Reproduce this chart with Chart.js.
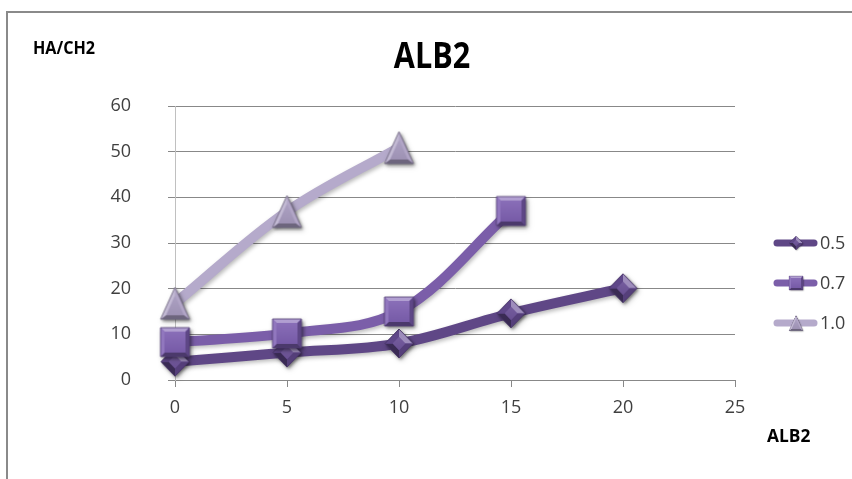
<!DOCTYPE html>
<html>
<head>
<meta charset="utf-8">
<script src="https://cdn.jsdelivr.net/npm/chart.js@4.4.1/dist/chart.umd.min.js"></script>
<style>
html, body { margin: 0; padding: 0; background: #fff; }
#wrap { position: relative; width: 852px; height: 479px; }
</style>
</head>
<body>
<div id="wrap"><canvas id="chart"></canvas></div>
<script>
// ALB2 values for each HA/CH2 ratio
const xValues = [0, 5, 10, 15, 20];
const series05 = [4.0, 6.0, 8.0, 14.6, 20.1];
const series07 = [8.3, 10.2, 15.0, 37.0];
const series10 = [16.8, 36.9, 50.9];
const seriesLabels = ['0.5', '0.7', '1.0'];

const FONT = "'Open Sans', 'DejaVu Sans', sans-serif";

function shade(hex, amt) {
    const n = parseInt(hex.slice(1), 16);
    let r = n >> 16, g = (n >> 8) & 255, b = n & 255;
    const t = amt < 0 ? 0 : 255, p = Math.abs(amt);
    r = Math.round((t - r) * p + r);
    g = Math.round((t - g) * p + g);
    b = Math.round((t - b) * p + b);
    return 'rgb(' + r + ',' + g + ',' + b + ')';
}

function poly(g, pts, fill) {
    g.beginPath();
    g.moveTo(pts[0][0], pts[0][1]);
    for (let i = 1; i < pts.length; i++) g.lineTo(pts[i][0], pts[i][1]);
    g.closePath();
    g.fillStyle = fill;
    g.fill();
}

// bevelled marker images, used as pointStyle
function makeMarker(shape, base, w, h) {
    const pad = 4;
    const c = document.createElement('canvas');
    c.width = w + pad * 2;
    c.height = h + pad * 2;
    const g = c.getContext('2d');
    const cx = c.width / 2, cy = c.height / 2;
    let outer;
    if (shape === 'diamond') {
        outer = [[cx, cy - h / 2], [cx + w / 2, cy], [cx, cy + h / 2], [cx - w / 2, cy]];
    } else if (shape === 'square') {
        outer = [[cx - w / 2, cy - h / 2], [cx + w / 2, cy - h / 2], [cx + w / 2, cy + h / 2], [cx - w / 2, cy + h / 2]];
    } else {
        outer = [[cx, cy - h / 2], [cx + w / 2, cy + h / 2], [cx - w / 2, cy + h / 2]];
    }
    g.save();
    g.shadowColor = 'rgba(0,0,0,0.4)';
    g.shadowBlur = 3;
    g.shadowOffsetX = 1.5;
    g.shadowOffsetY = 1.5;
    poly(g, outer, base);
    g.restore();

    let inner;
    if (shape === 'square') {
        const b = 4;
        inner = [[outer[0][0] + b, outer[0][1] + b], [outer[1][0] - b, outer[1][1] + b],
                 [outer[2][0] - b, outer[2][1] - b], [outer[3][0] + b, outer[3][1] - b]];
    } else {
        const k = shape === 'diamond' ? 0.45 : 0.6;
        const mx = outer.reduce((s, p) => s + p[0], 0) / outer.length;
        const my = outer.reduce((s, p) => s + p[1], 0) / outer.length;
        inner = outer.map(p => [mx + (p[0] - mx) * k, my + (p[1] - my) * k]);
    }
    let tones;
    if (shape === 'diamond') tones = [0.35, -0.2, -0.45, -0.1];
    else if (shape === 'square') tones = [0.4, -0.25, -0.4, 0.15];
    else tones = [0.1, -0.35, 0.3];
    const n = outer.length;
    for (let i = 0; i < n; i++) {
        const j = (i + 1) % n;
        poly(g, [outer[i], outer[j], inner[j], inner[i]], shade(base, tones[i]));
    }
    const grad = g.createLinearGradient(0, cy - h / 2, 0, cy + h / 2);
    grad.addColorStop(0, shade(base, 0.12));
    grad.addColorStop(1, shade(base, -0.08));
    poly(g, inner, grad);
    g.beginPath();
    g.moveTo(outer[0][0], outer[0][1]);
    for (let i = 1; i < n; i++) g.lineTo(outer[i][0], outer[i][1]);
    g.closePath();
    g.strokeStyle = shade(base, -0.35);
    g.lineWidth = 0.8;
    g.stroke();
    return c;
}

const lineColors = ['#5f4786', '#7b5ea9', '#b5aacb'];
const markerColors = ['#6a4f98', '#7d5fb2', '#a89bc0'];
const markers = [
    makeMarker('diamond', markerColors[0], 28, 29),
    makeMarker('square', markerColors[1], 29, 29),
    makeMarker('triangle', markerColors[2], 29, 32)
];
const allSeries = [series05, series07, series10];

function toPoints(vals) {
    return vals.map((v, i) => ({ x: xValues[i], y: v }));
}

const datasets = allSeries.map((vals, i) => ({
    label: seriesLabels[i],
    data: toPoints(vals),
    showLine: true,
    borderColor: lineColors[i],
    backgroundColor: lineColors[i],
    borderWidth: 10,
    borderCapStyle: 'round',
    borderJoinStyle: 'round',
    tension: 0.35,
    pointStyle: markers[i],
    pointRadius: 14,
    clip: false,
    order: 3 - i
}));

// frame, titles and the legend on the right
const decor = {
    id: 'decor',
    beforeDraw(chart) {
        const ctx = chart.ctx;
        ctx.save();
        ctx.fillStyle = '#fff';
        ctx.fillRect(0, 0, chart.width, chart.height);
        ctx.strokeStyle = '#8a8a8a';
        ctx.lineWidth = 2;
        ctx.beginPath();
        ctx.moveTo(7, chart.height);
        ctx.lineTo(7, 12);
        ctx.lineTo(chart.width, 12);
        ctx.stroke();
        ctx.restore();
    },
    beforeDatasetDraw(chart) {
        const ctx = chart.ctx;
        ctx.save();
        ctx.shadowColor = 'rgba(0,0,0,0.28)';
        ctx.shadowBlur = 4;
        ctx.shadowOffsetX = 1.5;
        ctx.shadowOffsetY = 2;
    },
    afterDatasetDraw(chart) {
        chart.ctx.restore();
    },
    afterDraw(chart) {
        const ctx = chart.ctx;
        ctx.save();
        ctx.fillStyle = '#000';
        ctx.textBaseline = 'alphabetic';
        // chart title
        ctx.save();
        ctx.translate(432, 68);
        ctx.scale(0.85, 1);
        ctx.font = 'bold 36px ' + FONT;
        ctx.textAlign = 'center';
        ctx.fillText('ALB2', 0, 0);
        ctx.restore();
        // axis titles
        ctx.font = 'bold 17px ' + FONT;
        ctx.textAlign = 'left';
        ctx.save();
        ctx.translate(33, 54);
        ctx.scale(0.95, 1);
        ctx.fillText('HA/CH2', 0, 0);
        ctx.restore();
        ctx.save();
        ctx.translate(767, 442);
        ctx.scale(1.02, 1);
        ctx.fillText('ALB2', 0, 0);
        ctx.restore();

        // legend
        const rows = [243, 283, 323];
        ctx.font = '18px ' + FONT;
        ctx.textBaseline = 'middle';
        for (let i = 0; i < seriesLabels.length; i++) {
            const y = rows[i];
            ctx.strokeStyle = lineColors[i];
            ctx.lineWidth = 7;
            ctx.lineCap = 'round';
            ctx.beginPath();
            ctx.moveTo(777, y);
            ctx.lineTo(814, y);
            ctx.stroke();
            const m = markers[i];
            const s = 0.48;
            ctx.drawImage(m, 796 - m.width * s / 2, y - m.height * s / 2, m.width * s, m.height * s);
            ctx.fillStyle = '#404040';
            ctx.fillText(seriesLabels[i], 820, y + 1);
        }
        ctx.restore();
    }
};

new Chart(document.getElementById('chart'), {
    type: 'scatter',
    data: { datasets: datasets },
    plugins: [decor],
    options: {
        responsive: true,
        maintainAspectRatio: false,
        animation: false,
        events: [],
        layout: { padding: { top: 106, right: 117, left: 0, bottom: 0 } },
        plugins: {
            legend: { display: false },
            title: { display: false },
            tooltip: { enabled: false }
        },
        scales: {
            x: {
                type: 'linear',
                min: 0,
                max: 25,
                afterFit(scale) { scale.height = 99; },
                ticks: {
                    stepSize: 5,
                    padding: 10,
                    color: '#404040',
                    font: { family: FONT, size: 18 }
                },
                grid: { drawOnChartArea: false, drawTicks: true, tickLength: 7, color: '#888' },
                border: { color: '#888' }
            },
            y: {
                type: 'linear',
                min: 0,
                max: 60,
                afterFit(scale) { scale.width = 175; },
                ticks: {
                    stepSize: 10,
                    padding: 37,
                    color: '#404040',
                    font: { family: FONT, size: 18 }
                },
                grid: { color: '#888', tickLength: 7 },
                border: { color: '#c0c0c0' }
            }
        }
    }
});
</script>
</body>
</html>
